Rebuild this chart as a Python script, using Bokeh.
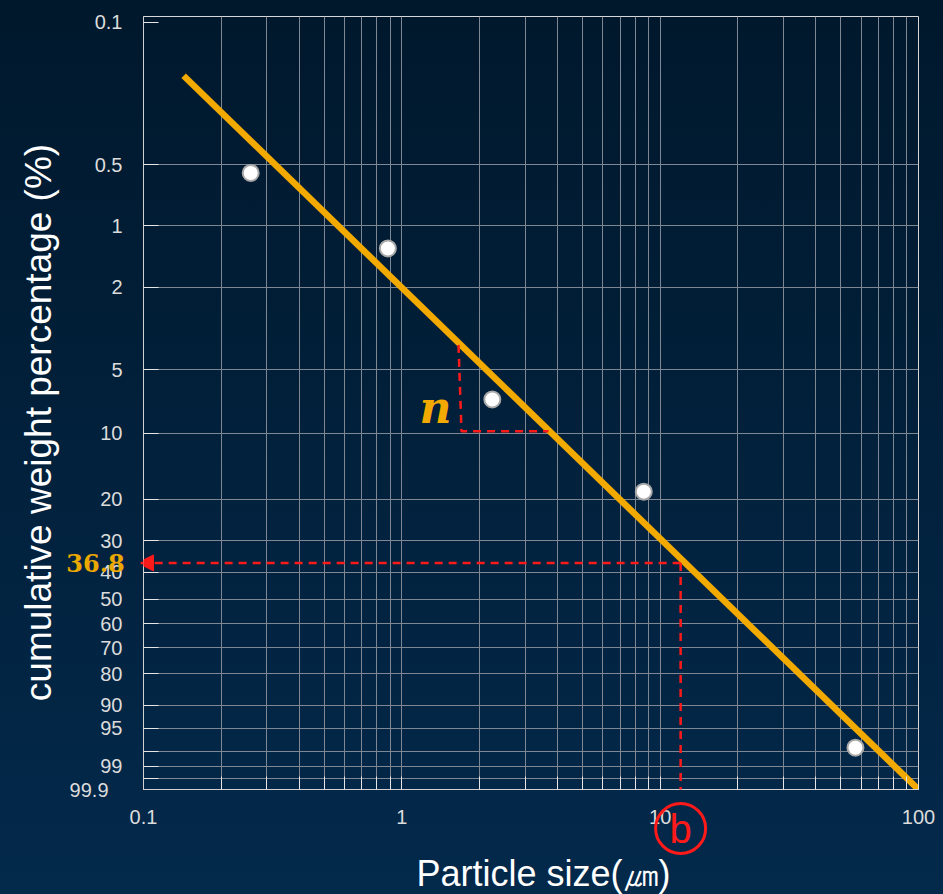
import math
from bokeh.plotting import figure
from bokeh.models import (Range1d, FixedTicker, CustomJSTickFormatter, Arrow,
                          NormalHead, GlobalInlineStyleSheet)
from bokeh.core.properties import value
from bokeh.embed import file_html
from bokeh.resources import INLINE

# ---------------- data ----------------
size_um = [0.26, 0.883, 2.24, 8.64, 57.0]          # measured particle sizes
cum_pct = [0.55, 1.29, 6.94, 18.5, 97.6]           # cumulative weight %
fit_size = [0.143, 100.0]                          # fitted straight line (ends)
fit_pct = [0.183, 99.75]
b_size = 12.0                                      # characteristic size b
char_pct = 36.8                                    # 36.8 % level
slope_x = [1.657, 1.702, 3.697]                    # slope triangle (n)
slope_pct = [3.8, 9.8, 9.8]
y_tick_pct = [0.1, 0.5, 1, 2, 5, 10, 20, 30, 40, 50, 60, 70, 80, 90, 95, 98, 99, 99.5]
y_tick_labels = ["0.1", "0.5", "1", "2", "5", "10", "20", "30", "40", "50", "60",
                 "70", "80", "90", "95", "", "99", ""]
x_ticks = [0.1, 1, 10, 100]
x_minor = [m * 10.0 ** e for e in (-1, 0, 1) for m in range(2, 10)]


def to_w(pct):
    """Weibull (Rosin-Rammler) probability scale."""
    f = pct / 100.0
    return math.log(-math.log(1.0 - f))


y_bottom, y_top = 1.79, -6.974
px_per_w = 773 / (y_bottom - y_top)

W = 943
H = 894
p = figure(width=W, height=H, x_axis_type="log", output_backend="svg",
           toolbar_location=None, title=None,
           x_range=Range1d(0.1, 100), y_range=Range1d(y_bottom, y_top),
           min_border_left=143, min_border_right=25, min_border_top=16,
           min_border_bottom=105)
p.border_fill_color = None
p.background_fill_color = None
p.outline_line_color = "#d8d8d8"
p.outline_line_width = 1
p.stylesheets = [GlobalInlineStyleSheet(css=(
    "html{min-height:100%;background:linear-gradient(180deg,#00182c 0%,#03294b 100%) "
    "no-repeat;background-color:#03294b;}"))]

tick_col = "#dcdcdc"
grid_col = "#7f8892"

# x axis
xa = p.xaxis[0]
xa.ticker = FixedTicker(ticks=x_ticks, minor_ticks=x_minor)
xa.formatter = CustomJSTickFormatter(code="return tick.toString();")
xa.major_label_text_font = "Liberation Sans"
xa.major_label_text_font_size = "20px"
xa.major_label_text_color = tick_col
xa.major_label_standoff = 20
xa.major_tick_in = 13
xa.major_tick_out = 0
xa.minor_tick_in = 13
xa.minor_tick_out = 0
xa.major_tick_line_color = "#e6e6e6"
xa.minor_tick_line_color = "#e6e6e6"
xa.axis_line_color = "#d0d0d0"

# y axis
yw = [to_w(v) for v in y_tick_pct]
ya = p.yaxis[0]
ya.ticker = FixedTicker(ticks=yw)
ya.formatter = CustomJSTickFormatter(args=dict(vals=yw, labs=y_tick_labels), code="""
let best = 0, d = 1e9;
for (let i = 0; i < vals.length; i++) {
  const e = Math.abs(vals[i] - tick);
  if (e < d) { d = e; best = i; }
}
return labs[best];
""")
ya.major_label_text_font = "Liberation Sans"
ya.major_label_text_font_size = "20px"
ya.major_label_text_color = tick_col
ya.major_label_standoff = 21
ya.major_tick_in = 15
ya.major_tick_out = 0
ya.minor_tick_line_color = None
ya.major_tick_line_color = "#e6e6e6"
ya.axis_line_color = "#d0d0d0"

p.xgrid.ticker = FixedTicker(ticks=x_ticks, minor_ticks=x_minor)
p.xgrid.grid_line_color = grid_col
p.xgrid.minor_grid_line_color = grid_col
p.ygrid.ticker = FixedTicker(ticks=yw[1:])
p.ygrid.grid_line_color = grid_col

# fitted line
p.line(fit_size, [to_w(v) for v in fit_pct], line_color="#f2a900", line_width=6.5)

# slope triangle
p.line(slope_x, [to_w(v) for v in slope_pct], line_color="#ff1a1a", line_width=2.5,
       line_dash="8 6")

# 36.8 % arrow and b drop line
w368 = to_w(char_pct)
circle_w = y_bottom + 39 / px_per_w
circle_top_w = circle_w - 25 / px_per_w
p.add_layout(Arrow(x_start=b_size, y_start=w368, x_end=0.0948, y_end=w368,
                   line_color="#ff1a1a", line_width=2.5, line_dash="8 6",
                   end=NormalHead(size=16, fill_color="#ff1a1a", line_color="#ff1a1a")))
p.add_layout(Arrow(x_start=b_size, y_start=w368, x_end=b_size, y_end=circle_top_w,
                   line_color="#ff1a1a", line_width=2.5, line_dash="8 6", end=None))

# data points
p.scatter(size_um, [to_w(v) for v in cum_pct], size=16, fill_color="white",
          line_color="#a8a8a8", line_width=2)

# b circle
p.scatter([b_size], [circle_w], size=50, fill_color=None, line_color="#ff1a1a",
          line_width=3, level="overlay")
p.text([b_size], [circle_w], text=["b"], text_align="center", text_baseline="middle",
       text_color="#ff1a1a", text_font=value("Liberation Sans"),
       text_font_size=value("40px"), level="overlay")

# annotations
p.text([0.1], [w368], text=["36.8"], x_offset=-48, text_align="center",
       text_baseline="middle", text_color="#eaa800", text_font=value("DejaVu Serif"),
       text_font_style="bold", text_font_size=value("24px"), level="overlay")
p.text([1.35], [to_w(7.6)], text=["n"], text_align="center", text_baseline="middle",
       text_color="#f2a900", text_font=value("DejaVu Serif"),
       text_font_style="bold italic", text_font_size=value("44px"), level="overlay")
p.text([0.1], [y_bottom], text=["99.9"], x_offset=-35, text_align="right",
       text_baseline="middle", text_color=tick_col, text_font=value("Liberation Sans"),
       text_font_size=value("20px"), level="overlay")

# axis titles
p.text([0.1], [y_top], text=["cumulative weight percentage (%)"], x_offset=-105,
       y_offset=406, angle=math.pi / 2, text_align="center", text_baseline="middle",
       text_color="white", text_font=value("Liberation Sans"),
       text_font_size=value("37px"), level="overlay")
p.text([0.1], [y_bottom], text=["Particle size(㎛)"], x_offset=400, y_offset=84,
       text_align="center", text_baseline="middle", text_color="white",
       text_font=value("Liberation Sans"), text_font_size=value("36px"),
       level="overlay")

open("out.html", "w").write(file_html(p, INLINE))
